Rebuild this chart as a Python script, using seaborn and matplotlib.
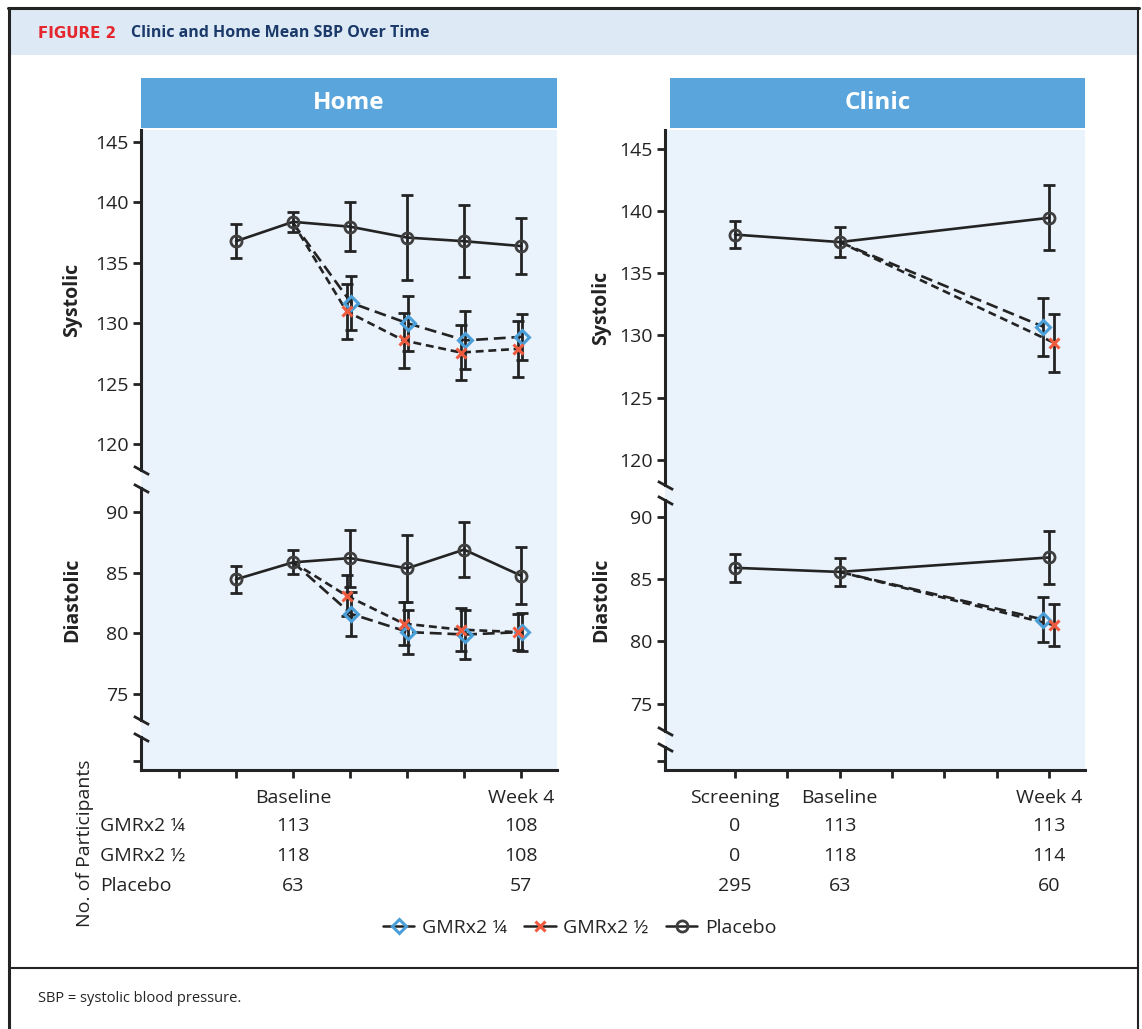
import numpy as np
import pandas as pd
import matplotlib
matplotlib.use("Agg")
import matplotlib.pyplot as plt
import seaborn as sns
from matplotlib.patches import Rectangle
from matplotlib.lines import Line2D
import matplotlib.transforms as mtransforms

# ---------------- data ----------------
series_names = ["GMRx2 ¼", "GMRx2 ½", "Placebo"]

# Home (weeks relative to baseline)
home_weeks_placebo = [-1, 0, 1, 2, 3, 4]
home_weeks_active = [0, 1, 2, 3, 4]
home_sys_placebo = [136.8, 138.4, 138.0, 137.1, 136.8, 136.4]
home_sys_placebo_err = [1.4, 0.8, 2.0, 3.5, 3.0, 2.35]
home_sys_q = [138.3, 131.7, 130.0, 128.6, 128.9]
home_sys_q_err = [0.0, 2.25, 2.3, 2.4, 1.9]
home_sys_h = [138.3, 131.0, 128.6, 127.6, 127.9]
home_sys_h_err = [0.0, 2.3, 2.3, 2.3, 2.3]
home_dia_placebo = [84.45, 85.85, 86.2, 85.35, 86.9, 84.75]
home_dia_placebo_err = [1.1, 1.0, 2.35, 2.75, 2.25, 2.35]
home_dia_q = [85.85, 81.6, 80.1, 79.9, 80.1]
home_dia_q_err = [0.0, 1.8, 1.8, 2.0, 1.6]
home_dia_h = [85.85, 83.1, 80.8, 80.3, 80.1]
home_dia_h_err = [0.0, 1.7, 1.75, 1.75, 1.5]

# Clinic
clinic_weeks_placebo = [-2, 0, 4]
clinic_weeks_active = [0, 4]
clinic_sys_placebo = [138.1, 137.5, 139.45]
clinic_sys_placebo_err = [1.1, 1.23, 2.6]
clinic_sys_q = [137.5, 130.7]
clinic_sys_q_err = [0.0, 2.33]
clinic_sys_h = [137.5, 129.4]
clinic_sys_h_err = [0.0, 2.35]
clinic_dia_placebo = [85.9, 85.57, 86.73]
clinic_dia_placebo_err = [1.1, 1.1, 2.1]
clinic_dia_q = [85.57, 81.75]
clinic_dia_q_err = [0.0, 1.8]
clinic_dia_h = [85.57, 81.3]
clinic_dia_h_err = [0.0, 1.7]

home_tick_weeks = [-2, -1, 0, 1, 2, 3, 4]
home_tick_labels = ["", "", "Baseline", "", "", "", "Week 4"]
clinic_tick_labels = ["Screening", "", "Baseline", "", "", "", "Week 4"]

home_n_weeks = [0, 4]
home_n = {"GMRx2 ¼": [113, 108], "GMRx2 ½": [118, 108], "Placebo": [63, 57]}
clinic_n_weeks = [-2, 0, 4]
clinic_n = {"GMRx2 ¼": [0, 113, 113], "GMRx2 ½": [0, 118, 114], "Placebo": [295, 63, 60]}

sys_ticks = [120, 125, 130, 135, 140, 145]
dia_ticks = [75, 80, 85, 90]

# ---------------- style ----------------
sns.set_theme(style="white")
plt.rcParams['font.family'] = ['Open Sans', 'DejaVu Sans']

BLUE = "#4a9fd8"
RED = "#ef5b3f"
DARK = "#232323"
GREY = "#3f3f3f"
BG = "#eaf2fb"
HEADER = "#5aa6dc"
BAND = "#dde9f5"
NAVY = "#1b3a6a"

W, H = 1142, 1029
fig = plt.figure(figsize=(W / 100, H / 100), dpi=100)


def rect(x0, y0, x1, y1):
    return [x0 / W, 1 - y1 / H, (x1 - x0) / W, (y1 - y0) / H]


def fig_line(xs, ys, lw=2.0, color=DARK):
    fig.add_artist(Line2D([x / W for x in xs], [1 - y / H for y in ys],
                          transform=fig.transFigure, color=color, lw=lw))


# frame + title band
fig.add_artist(Rectangle((10 / W, 1 - 55 / H), 1128 / W, 45 / H, transform=fig.transFigure,
                         facecolor=BAND, edgecolor="none", zorder=0))
fig_line([8, 1139], [8, 8], lw=2.2)
fig_line([9, 9], [8, 1029], lw=2.2)
fig_line([1138, 1138], [8, 1029], lw=1.5)
fig_line([9, 1138], [968, 968], lw=1.5)
fig.text(38 / W, 1 - 33 / H, "FIGURE 2", color="#e5262d", fontsize=10.8, fontweight="bold",
         family="DejaVu Sans", va="center", ha="left")
fig.text(131 / W, 1 - 33 / H, "Clinic and Home Mean SBP Over Time", color=NAVY, fontsize=11.5,
         fontweight="bold", va="center", ha="left")
fig.text(38 / W, 1 - 998 / H, "SBP = systolic blood pressure.", color=DARK, fontsize=10.5,
         va="center", ha="left")

break_kw = dict(marker=[(-1, 0.55), (1, -0.55)], markersize=11, linestyle="none",
                color=DARK, mec=DARK, mew=2.0, clip_on=False, zorder=10)


def style_segment(ax, xlim, ylim, yticks, ylabels=True, bottom=False):
    ax.set_facecolor("none")
    ax.set_xlim(*xlim)
    ax.set_ylim(*ylim)
    for side in ["top", "right"]:
        ax.spines[side].set_visible(False)
    ax.spines["left"].set_linewidth(2.2)
    ax.spines["left"].set_color(DARK)
    ax.spines["bottom"].set_visible(bottom)
    ax.spines["bottom"].set_linewidth(2.2)
    ax.spines["bottom"].set_color(DARK)
    ax.set_yticks(yticks)
    if not ylabels:
        ax.set_yticklabels([])
    ax.tick_params(axis="y", direction="out", length=6, width=2, color=DARK,
                   labelsize=14, labelcolor=DARK, pad=3, left=True)
    if not bottom:
        ax.set_xticks([])
    ax.set_xlabel("")
    ax.set_ylabel("")


def draw_series(ax, wp, yp, ep, wa, yq, eq, yh, eh, dq, dh):
    xq = [w + (dq if w != 0 else 0) for w in wa]
    xh = [w + (dh if w != 0 else 0) for w in wa]
    df = pd.concat([
        pd.DataFrame({"x": xq, "y": yq, "group": series_names[0]}),
        pd.DataFrame({"x": xh, "y": yh, "group": series_names[1]}),
        pd.DataFrame({"x": wp, "y": yp, "group": series_names[2]}),
    ])
    sns.lineplot(data=df, x="x", y="y", hue="group", style="group",
                 palette={n: DARK for n in series_names},
                 dashes={series_names[0]: (4.5, 2.2), series_names[1]: (3.0, 1.8), series_names[2]: ""},
                 sort=False, estimator=None, errorbar=None, legend=False, lw=1.9, ax=ax, zorder=3)
    ebkw = dict(fmt="none", ecolor=DARK, elinewidth=2.0, capsize=4, capthick=2.0, zorder=4)
    ax.errorbar(wp, yp, yerr=ep, **ebkw)
    idx = [i for i, w in enumerate(wa) if w != 0]
    ax.errorbar([xq[i] for i in idx], [yq[i] for i in idx], yerr=[eq[i] for i in idx], **ebkw)
    ax.errorbar([xh[i] for i in idx], [yh[i] for i in idx], yerr=[eh[i] for i in idx], **ebkw)
    ax.plot(wp, yp, ls="none", marker="o", ms=8, mfc="none", mec=GREY, mew=2.0, zorder=5)
    ax.plot([xq[i] for i in idx], [yq[i] for i in idx], ls="none", marker="D", ms=7,
            mfc="none", mec=BLUE, mew=2.2, zorder=6)
    ax.plot([xh[i] for i in idx], [yh[i] for i in idx], ls="none", marker="x", ms=7.5,
            mec=RED, mew=2.2, zorder=6)


def make_panel(x0, x1, title, xlim, sys_span, sys_ylim, dia_span, dia_ylim, bot_span, bot_tick,
               tick_labels, data_sys, data_dia, dodge, label_x):
    # background + header
    bg = fig.add_axes(rect(x0, 130, x1, 770), zorder=0)
    bg.set_facecolor(BG)
    bg.set_xticks([]); bg.set_yticks([])
    for s in bg.spines.values():
        s.set_visible(False)
    hx0 = x0 + (5 if title == "Clinic" else 0)
    fig.add_artist(Rectangle((hx0 / W, 1 - 128 / H), (x1 - hx0) / W, 50 / H, transform=fig.transFigure,
                             facecolor=HEADER, edgecolor="none"))
    fig.text((hx0 + x1) / 2 / W, 1 - 103 / H, title, color="white", fontsize=17.5, fontweight="bold",
             ha="center", va="center")

    ax_s = fig.add_axes(rect(x0, sys_span[0], x1, sys_span[1]), zorder=2)
    draw_series(ax_s, *data_sys, *dodge)
    style_segment(ax_s, xlim, sys_ylim, sys_ticks)

    ax_d = fig.add_axes(rect(x0, dia_span[0], x1, dia_span[1]), zorder=2)
    draw_series(ax_d, *data_dia, *dodge)
    style_segment(ax_d, xlim, dia_ylim, dia_ticks)

    ax_b = fig.add_axes(rect(x0, bot_span[0], x1, bot_span[1]), zorder=2)
    style_segment(ax_b, xlim, (0, 1), [bot_tick], ylabels=False, bottom=True)
    ax_b.set_xticks(home_tick_weeks)
    ax_b.set_xticklabels(tick_labels)
    ax_b.tick_params(axis="x", direction="out", length=6, width=2, color=DARK, labelsize=14,
                     labelcolor=DARK, pad=8, bottom=True)

    # break marks
    ax_s.plot([0], [0], transform=ax_s.transAxes, **break_kw)
    ax_d.plot([0], [1], transform=ax_d.transAxes, **break_kw)
    ax_d.plot([0], [0], transform=ax_d.transAxes, **break_kw)
    ax_b.plot([0], [1], transform=ax_b.transAxes, **break_kw)

    # y labels
    fig.text(label_x / W, 1 - (sys_span[0] + sys_span[1]) / 2 / H, "Systolic", rotation=90,
             fontsize=14, fontweight="bold", color=DARK, ha="center", va="center")
    fig.text(label_x / W, 1 - 600 / H, "Diastolic", rotation=90,
             fontsize=14, fontweight="bold", color=DARK, ha="center", va="center")
    return ax_b


home_ax = make_panel(141, 557, "Home", (-2.667, 4.63), (130, 470), (117.89, 145.99),
                     (488, 720), (72.85, 91.98), (737, 770), 0.273, home_tick_labels,
                     (home_weeks_placebo, home_sys_placebo, home_sys_placebo_err, home_weeks_active,
                      home_sys_q, home_sys_q_err, home_sys_h, home_sys_h_err),
                     (home_weeks_placebo, home_dia_placebo, home_dia_placebo_err, home_weeks_active,
                      home_dia_q, home_dia_q_err, home_dia_h, home_dia_h_err),
                     (0.02, -0.06), 72)

clinic_ax = make_panel(665, 1085, "Clinic", (-3.338, 4.69), (130, 485), (117.97, 146.51),
                       (500, 731), (72.81, 91.34), (747, 770), 0.391, clinic_tick_labels,
                       (clinic_weeks_placebo, clinic_sys_placebo, clinic_sys_placebo_err, clinic_weeks_active,
                        clinic_sys_q, clinic_sys_q_err, clinic_sys_h, clinic_sys_h_err),
                       (clinic_weeks_placebo, clinic_dia_placebo, clinic_dia_placebo_err, clinic_weeks_active,
                        clinic_dia_q, clinic_dia_q_err, clinic_dia_h, clinic_dia_h_err),
                       (-0.11, 0.1), 601)

# participants table
row_y = [826, 856, 886]
tr_home = mtransforms.blended_transform_factory(home_ax.transData, fig.transFigure)
tr_clin = mtransforms.blended_transform_factory(clinic_ax.transData, fig.transFigure)
for name, y in zip(series_names, row_y):
    fig.text(100 / W, 1 - y / H, name, fontsize=14, color=DARK, ha="left", va="center")
    for w, n in zip(home_n_weeks, home_n[name]):
        home_ax.text(w, 1 - y / H, str(n), transform=tr_home, fontsize=14, color=DARK,
                     ha="center", va="center", clip_on=False)
    for w, n in zip(clinic_n_weeks, clinic_n[name]):
        clinic_ax.text(w, 1 - y / H, str(n), transform=tr_clin, fontsize=14, color=DARK,
                       ha="center", va="center", clip_on=False)
fig.text(85 / W, 1 - 843 / H, "No. of Participants", rotation=90, fontsize=14, color=DARK,
         ha="center", va="center")

# legend
handles = [
    Line2D([], [], color=DARK, lw=1.8, marker="D", ms=7, mfc="none", mec=BLUE, mew=2.2),
    Line2D([], [], color=DARK, lw=1.8, marker="x", ms=7, mec=RED, mew=2.2),
    Line2D([], [], color=DARK, lw=1.8, marker="o", ms=8, mfc="none", mec=GREY, mew=2.0),
]
fig.legend(handles, series_names, loc="center", bbox_to_anchor=(580 / W, 1 - 928 / H), ncol=3,
           frameon=False, fontsize=14, handlelength=1.6, handletextpad=0.4, columnspacing=0.9,
           labelcolor=DARK)

fig.savefig("out.png", dpi=100)
